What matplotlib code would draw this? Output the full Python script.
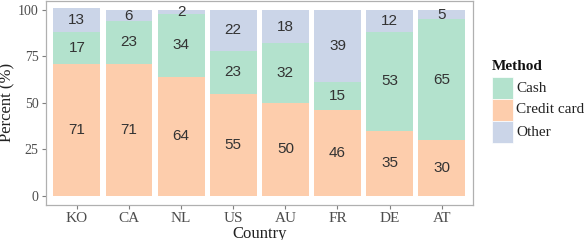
import matplotlib
matplotlib.use("Agg")
import matplotlib.pyplot as plt
import numpy as np
from matplotlib.patches import Rectangle

countries = ["KO", "CA", "NL", "US", "AU", "FR", "DE", "AT"]
credit = [71, 71, 64, 55, 50, 46, 35, 30]
cash = [17, 23, 34, 23, 32, 15, 53, 65]
other = [13, 6, 2, 22, 18, 39, 12, 5]
methods = ["Cash", "Credit card", "Other"]
colors = {"Cash": "#b3e2cd", "Credit card": "#fdcdac", "Other": "#cbd5e8"}
yticks = [0, 25, 50, 75, 100]

fig = plt.figure(figsize=(5.84, 2.4), dpi=100)
ax = fig.add_axes([0.078, 0.146, 0.732, 0.851])

x = np.arange(1, len(countries) + 1)
credit_a = np.array(credit)
cash_a = np.array(cash)
other_a = np.array(other)
layers = [("Credit card", credit_a, np.zeros_like(credit_a)),
          ("Cash", cash_a, credit_a),
          ("Other", other_a, credit_a + cash_a)]
for name, vals, bottom in layers:
    ax.bar(x, vals, bottom=bottom, width=0.9, color=colors[name], linewidth=0)
    for xi, v, b in zip(x, vals, bottom):
        ax.text(xi, b + v / 2, str(v), ha="center", va="center",
                fontsize=11, color="#333333", family="Liberation Sans")

ax.set_xlim(0.4, len(countries) + 0.6)
ax.set_ylim(-5, 105)
ax.set_xticks(x)
ax.set_xticklabels(countries, family="Liberation Serif", fontsize=11, color="#4d4d4d")
ax.set_yticks(yticks)
ax.set_yticklabels([str(t) for t in yticks], family="Liberation Serif", fontsize=10, color="#4d4d4d")
ax.tick_params(axis="both", length=3, color="#7f7f7f", width=0.8, pad=2)
for s in ax.spines.values():
    s.set_color("#b0b0b0")
    s.set_linewidth(0.9)
ax.set_ylabel("Percent (%)", family="Liberation Serif", fontsize=12, color="#222222", labelpad=2)
ax.set_xlabel("Country", family="Liberation Serif", fontsize=12, color="#222222", labelpad=1)

# legend
fig.text(492 / 584, 1 - 67 / 240, "Method", family="Liberation Serif", fontweight="bold",
         fontsize=11, va="center", ha="left", color="#111111")
for i, m in enumerate(methods):
    y0 = 77 + i * 22
    fig.patches.append(Rectangle((492 / 584, 1 - (y0 + 22) / 240), 21 / 584, 22 / 240,
                                 transform=fig.transFigure, facecolor=colors[m],
                                 edgecolor="white", linewidth=0.5))
    fig.text(516 / 584, 1 - (y0 + 11) / 240, m, family="Liberation Serif", fontsize=11,
             va="center", ha="left", color="#222222")

fig.savefig("out.png", dpi=100)
